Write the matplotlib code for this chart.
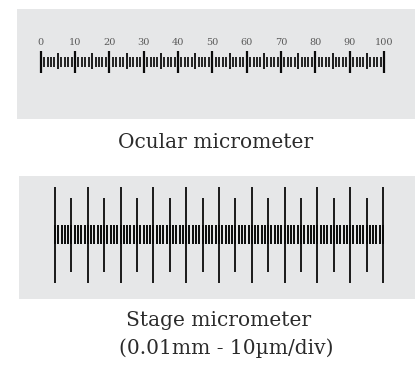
import matplotlib
matplotlib.use("Agg")
import matplotlib.pyplot as plt
from matplotlib.patches import Rectangle

# scale data
ocular_labels = [0, 10, 20, 30, 40, 50, 60, 70, 80, 90, 100]
ocular_divisions = 100
stage_major_intervals = 10
stage_subdivisions = 10
captions = ["Ocular micrometer", "Stage micrometer", "(0.01mm - 10\u00b5m/div)"]

panel_color = "#e6e7e8"
ink = "#0a0a0a"

fig = plt.figure(figsize=(4.16, 3.66), dpi=100)
ax = fig.add_axes([0, 0, 1, 1])
ax.set_xlim(0, 416)
ax.set_ylim(366, 0)
ax.axis("off")

# panels
ax.add_patch(Rectangle((17, 9), 398, 110, color=panel_color, lw=0))
ax.add_patch(Rectangle((19, 176), 396, 123, color=panel_color, lw=0))

# ocular micrometer
ox0, ox1 = 40.7, 384.0
ostep = (ox1 - ox0) / ocular_divisions
for i in range(ocular_divisions + 1):
    x = ox0 + i * ostep
    if i % 10 == 0:
        y0, y1, lw = 50.7, 72.7, 1.6
    elif i % 5 == 0:
        y0, y1, lw = 53.3, 69.3, 1.3
    else:
        y0, y1, lw = 56.7, 66.7, 1.25
    ax.plot([x, x], [y0, y1], color=ink, lw=lw, solid_capstyle="butt")
for v in ocular_labels:
    ax.text(ox0 + v * ostep, 42.5, str(v), ha="center", va="center",
            fontsize=7, color="#5a5a5a", family="DejaVu Serif")

# stage micrometer
sx0, sx1 = 55.0, 383.0
n = stage_major_intervals * stage_subdivisions
sstep = (sx1 - sx0) / n
for i in range(n + 1):
    x = sx0 + i * sstep
    ax.plot([x, x], [225, 244], color=ink, lw=1.4, solid_capstyle="butt")
for k in range(stage_major_intervals + 1):
    x = sx0 + k * stage_subdivisions * sstep
    ax.plot([x, x], [187, 283], color=ink, lw=1.3, solid_capstyle="butt")
for k in range(stage_major_intervals):
    x = sx0 + (k + 0.5) * stage_subdivisions * sstep
    ax.plot([x, x], [198, 272], color=ink, lw=1.3, solid_capstyle="butt")

# captions
ax.text(216, 142, captions[0], ha="center", va="center", fontsize=14.5,
        color="#2b2b2b", family="DejaVu Serif")
ax.text(219, 321, captions[1], ha="center", va="center", fontsize=14.5,
        color="#2b2b2b", family="DejaVu Serif")
ax.text(226, 348, captions[2], ha="center", va="center", fontsize=14.5,
        color="#2b2b2b", family="DejaVu Serif")

fig.savefig("out.png", dpi=100)
